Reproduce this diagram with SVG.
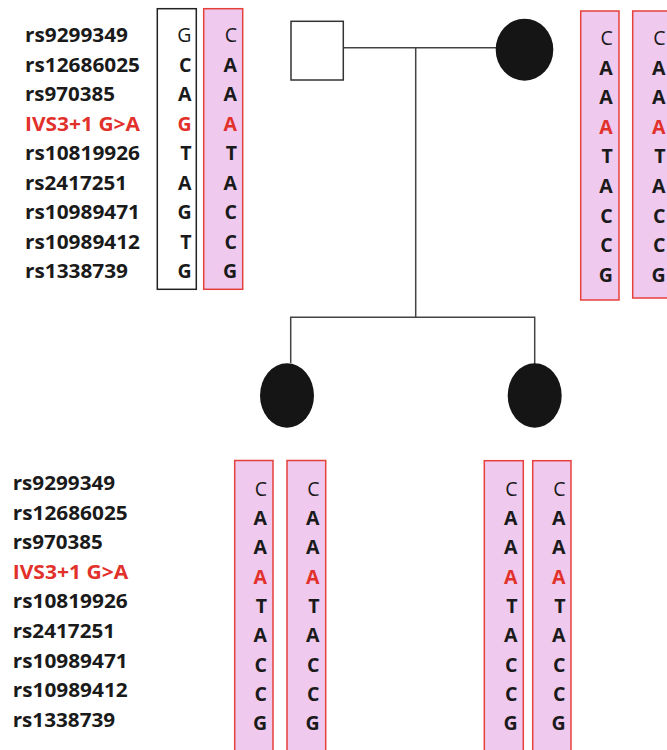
<svg xmlns="http://www.w3.org/2000/svg" width="667" height="750" viewBox="0 0 667 750">
<style>
.lbl{font-family:"Open Sans","Liberation Sans",sans-serif;font-weight:bold;font-size:19.5px;fill:#1a1a1a}
.al{font-family:"Open Sans","Liberation Sans",sans-serif;font-weight:bold;font-size:19.5px;fill:#1a1a1a;text-anchor:end}
.reg{font-weight:normal}
.red{fill:#e2312b}
.pk{fill:#efc9ee;stroke:#e5403a;stroke-width:1.5}
.bk{fill:#fff;stroke:#222;stroke-width:1.5}
.ln{stroke:#444;stroke-width:1.5;fill:none}
.aff{fill:#151515}
</style>
<rect width="667" height="750" fill="#fff"/>
<g id="labels-top">
<text class="lbl" x="25" y="42" textLength="103" lengthAdjust="spacingAndGlyphs">rs9299349</text>
<text class="lbl" x="25" y="71.5" textLength="115" lengthAdjust="spacingAndGlyphs">rs12686025</text>
<text class="lbl" x="25" y="101" textLength="90" lengthAdjust="spacingAndGlyphs">rs970385</text>
<text class="lbl red" x="25" y="130.5" textLength="115" lengthAdjust="spacingAndGlyphs">IVS3+1 G&gt;A</text>
<text class="lbl" x="25" y="160" textLength="115" lengthAdjust="spacingAndGlyphs">rs10819926</text>
<text class="lbl" x="25" y="189.5" textLength="102" lengthAdjust="spacingAndGlyphs">rs2417251</text>
<text class="lbl" x="25" y="219" textLength="115" lengthAdjust="spacingAndGlyphs">rs10989471</text>
<text class="lbl" x="25" y="248.5" textLength="115" lengthAdjust="spacingAndGlyphs">rs10989412</text>
<text class="lbl" x="25" y="278" textLength="103" lengthAdjust="spacingAndGlyphs">rs1338739</text>
</g>
<g id="labels-bottom">
<text class="lbl" x="12.7" y="490" textLength="102.5" lengthAdjust="spacingAndGlyphs">rs9299349</text>
<text class="lbl" x="12.7" y="519.6" textLength="115" lengthAdjust="spacingAndGlyphs">rs12686025</text>
<text class="lbl" x="12.7" y="549.2" textLength="90" lengthAdjust="spacingAndGlyphs">rs970385</text>
<text class="lbl red" x="12.7" y="578.8" textLength="115.5" lengthAdjust="spacingAndGlyphs">IVS3+1 G&gt;A</text>
<text class="lbl" x="12.7" y="608.4" textLength="115" lengthAdjust="spacingAndGlyphs">rs10819926</text>
<text class="lbl" x="12.7" y="638" textLength="102.5" lengthAdjust="spacingAndGlyphs">rs2417251</text>
<text class="lbl" x="12.7" y="667.6" textLength="115" lengthAdjust="spacingAndGlyphs">rs10989471</text>
<text class="lbl" x="12.7" y="697.2" textLength="115" lengthAdjust="spacingAndGlyphs">rs10989412</text>
<text class="lbl" x="12.7" y="726.8" textLength="102.5" lengthAdjust="spacingAndGlyphs">rs1338739</text>
</g>
<g id="connectors">
<line class="ln" x1="343" y1="47.7" x2="497" y2="47.7"/>
<line class="ln" x1="415.7" y1="47.7" x2="415.7" y2="317.3"/>
<polyline class="ln" points="290.7,363 290.7,317.3 534.7,317.3 534.7,364"/>
</g>
<g id="father">
<rect x="291" y="21.3" width="52.3" height="58.7" fill="#fff" stroke="#333" stroke-width="1.5"/>
</g>
<g id="mother">
<ellipse class="aff" cx="524.5" cy="49.7" rx="28.8" ry="31"/>
</g>
<g id="daughter1">
<ellipse class="aff" cx="287" cy="395.5" rx="27" ry="32.3"/>
</g>
<g id="daughter2">
<ellipse class="aff" cx="534.7" cy="395.5" rx="27" ry="32.3"/>
</g>
<g id="father-hap1">
<rect class="bk" x="157.3" y="8.7" width="39" height="280.6"/>
<text class="al reg" x="191.5" y="42">G</text>
<text class="al" x="191.5" y="71.5">C</text>
<text class="al" x="191.5" y="101">A</text>
<text class="al red" x="191.5" y="130.5">G</text>
<text class="al" x="191.5" y="160">T</text>
<text class="al" x="191.5" y="189.5">A</text>
<text class="al" x="191.5" y="219">G</text>
<text class="al" x="191.5" y="248.5">T</text>
<text class="al" x="191.5" y="278">G</text>
</g>
<g id="father-hap2">
<rect class="pk" x="203.7" y="8.7" width="39" height="280.6"/>
<text class="al reg" x="237" y="42">C</text>
<text class="al" x="237" y="71.5">A</text>
<text class="al" x="237" y="101">A</text>
<text class="al red" x="237" y="130.5">A</text>
<text class="al" x="237" y="160">T</text>
<text class="al" x="237" y="189.5">A</text>
<text class="al" x="237" y="219">C</text>
<text class="al" x="237" y="248.5">C</text>
<text class="al" x="237" y="278">G</text>
</g>
<g id="mother-hap1">
<rect class="pk" x="580.7" y="11" width="38.3" height="289"/>
<text class="al reg" x="612.8" y="45">C</text>
<text class="al" x="612.8" y="74.6">A</text>
<text class="al" x="612.8" y="104.2">A</text>
<text class="al red" x="612.8" y="133.8">A</text>
<text class="al" x="612.8" y="163.4">T</text>
<text class="al" x="612.8" y="193">A</text>
<text class="al" x="612.8" y="222.6">C</text>
<text class="al" x="612.8" y="252.2">C</text>
<text class="al" x="612.8" y="281.8">G</text>
</g>
<g id="mother-hap2">
<rect class="pk" x="632.7" y="11" width="40" height="287"/>
<text class="al reg" x="665.5" y="45">C</text>
<text class="al" x="665.5" y="74.6">A</text>
<text class="al" x="665.5" y="104.2">A</text>
<text class="al red" x="665.5" y="133.8">A</text>
<text class="al" x="665.5" y="163.4">T</text>
<text class="al" x="665.5" y="193">A</text>
<text class="al" x="665.5" y="222.6">C</text>
<text class="al" x="665.5" y="252.2">C</text>
<text class="al" x="665.5" y="281.8">G</text>
</g>
<g id="d1-hap1">
<rect class="pk" x="234.7" y="460.5" width="38.3" height="300"/>
<text class="al reg" x="267" y="495.8">C</text>
<text class="al" x="267" y="525.1">A</text>
<text class="al" x="267" y="554.4">A</text>
<text class="al red" x="267" y="583.7">A</text>
<text class="al" x="267" y="613">T</text>
<text class="al" x="267" y="642.3">A</text>
<text class="al" x="267" y="671.6">C</text>
<text class="al" x="267" y="700.9">C</text>
<text class="al" x="267" y="730.2">G</text>
</g>
<g id="d1-hap2">
<rect class="pk" x="287" y="460.5" width="38.7" height="300"/>
<text class="al reg" x="319.5" y="495.8">C</text>
<text class="al" x="319.5" y="525.1">A</text>
<text class="al" x="319.5" y="554.4">A</text>
<text class="al red" x="319.5" y="583.7">A</text>
<text class="al" x="319.5" y="613">T</text>
<text class="al" x="319.5" y="642.3">A</text>
<text class="al" x="319.5" y="671.6">C</text>
<text class="al" x="319.5" y="700.9">C</text>
<text class="al" x="319.5" y="730.2">G</text>
</g>
<g id="d2-hap1">
<rect class="pk" x="484.3" y="460.7" width="39" height="300"/>
<text class="al reg" x="517.5" y="495.8">C</text>
<text class="al" x="517.5" y="525.1">A</text>
<text class="al" x="517.5" y="554.4">A</text>
<text class="al red" x="517.5" y="583.7">A</text>
<text class="al" x="517.5" y="613">T</text>
<text class="al" x="517.5" y="642.3">A</text>
<text class="al" x="517.5" y="671.6">C</text>
<text class="al" x="517.5" y="700.9">C</text>
<text class="al" x="517.5" y="730.2">G</text>
</g>
<g id="d2-hap2">
<rect class="pk" x="532.7" y="460.7" width="38.3" height="300"/>
<text class="al reg" x="565.5" y="495.8">C</text>
<text class="al" x="565.5" y="525.1">A</text>
<text class="al" x="565.5" y="554.4">A</text>
<text class="al red" x="565.5" y="583.7">A</text>
<text class="al" x="565.5" y="613">T</text>
<text class="al" x="565.5" y="642.3">A</text>
<text class="al" x="565.5" y="671.6">C</text>
<text class="al" x="565.5" y="700.9">C</text>
<text class="al" x="565.5" y="730.2">G</text>
</g>
</svg>
